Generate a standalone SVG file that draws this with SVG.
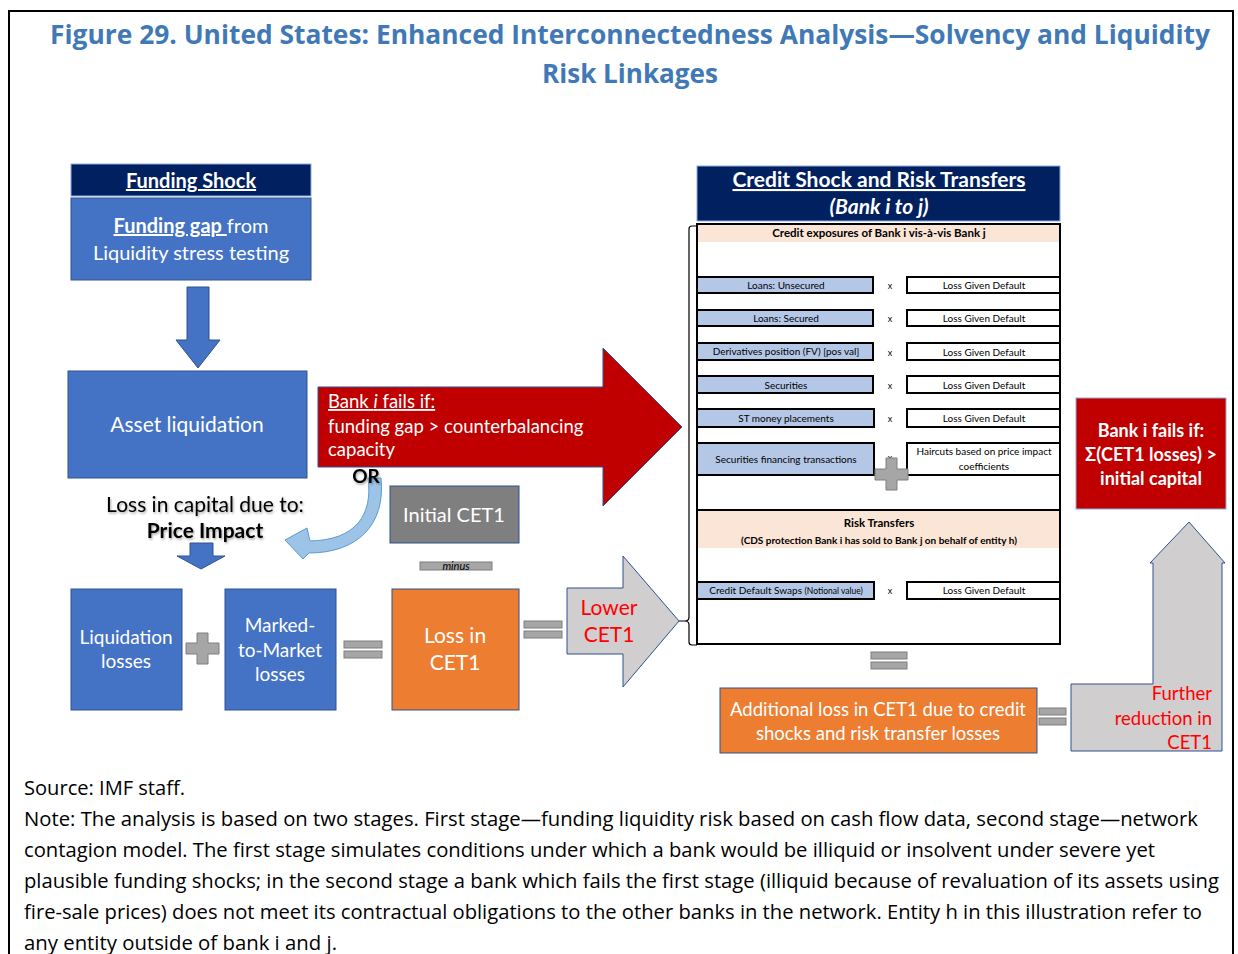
<svg xmlns="http://www.w3.org/2000/svg" width="1238" height="954" viewBox="0 0 1238 954">
<defs>
<filter id="shadow" x="-10%" y="-30%" width="120%" height="160%">
<feDropShadow dx="1" dy="1.5" stdDeviation="1" flood-color="#000" flood-opacity="0.35"/>
</filter>
</defs>
<style>
text{font-family:Lato,"Open Sans","Liberation Sans",sans-serif}
.w{fill:#fff}
.c{text-anchor:middle}
.b{font-weight:bold}
.u{text-decoration:underline}
.blue{fill:#4472C4;stroke:#2F528F;stroke-width:1}
.navy{fill:#002060;stroke:#8FAADC;stroke-width:1}
.orange{fill:#ED7D31;stroke:#2F528F;stroke-width:1}
.gray{fill:#A6A6A6;stroke:#7F7F7F;stroke-width:1}
.lgray{fill:#D0CECE;stroke:#2F528F;stroke-width:1}
.cellL{fill:#B4C7E7;stroke:#000;stroke-width:2}
.cellR{fill:#fff;stroke:#000;stroke-width:2}
.t10{font-size:10px;fill:#000}
.x{font-size:9px;fill:#000;text-anchor:middle}
.note{font-family:"Open Sans","Liberation Sans",sans-serif;font-size:19.5px;fill:#000}
.red{fill:#FF0000}
</style>
<rect x="9" y="11" width="1224" height="960" fill="none" stroke="#000" stroke-width="2"/>
<g id="title">
<text x="630" y="44" class="c b" style="font-family:'Open Sans','Liberation Sans',sans-serif;font-size:27px;fill:#4079B5" textLength="1160" lengthAdjust="spacingAndGlyphs">Figure 29. United States: Enhanced Interconnectedness Analysis—Solvency and Liquidity</text>
<text x="630" y="83" class="c b" style="font-family:'Open Sans','Liberation Sans',sans-serif;font-size:27px;fill:#4079B5" textLength="176" lengthAdjust="spacingAndGlyphs">Risk Linkages</text>
</g>
<g id="funding-shock">
<rect x="71" y="164" width="240" height="32" class="navy"/>
<text x="191" y="188" class="w c b u" font-size="20">Funding Shock</text>
</g>
<g id="funding-gap">
<rect x="71" y="198" width="240" height="82" class="blue"/>
<text x="191" y="233" class="w c" font-size="20"><tspan class="b u">Funding gap </tspan>from</text>
<text x="191" y="260" class="w c" font-size="20">Liquidity stress testing</text>
</g>
<g id="asset-liquidation">
<rect x="68" y="371" width="239" height="107" class="blue"/>
<text x="187" y="432" class="w c" font-size="21">Asset liquidation</text>
</g>
<g id="connectors">
<polygon points="187,287 209,287 209,340 220,340 198,368 176,340 187,340" class="blue"/>
<path d="M697,226 H692 Q689,226 689,229 V617 Q689,621 685,621 H679 M685,621 Q689,621 689,625 V642 Q689,645 692,645 H697" fill="none" stroke="#000" stroke-width="1.2"/>
</g>
<g id="bank-fails-arrow">
<polygon points="318,387 603,387 603,348 682,427 603,506 603,467 318,467" fill="#C00000" stroke="#2F528F" stroke-width="1"/>
<text x="328" y="408" class="w" font-size="18.5"><tspan class="u">Bank <tspan font-style="italic">i</tspan> fails if:</tspan></text>
<text x="328" y="433" class="w" font-size="18.5">funding gap &gt; counterbalancing</text>
<text x="328" y="456" class="w" font-size="18.5">capacity</text>
</g>
<g id="or-curve">
<path d="M368,478 C373,515 356,540 310,541 L307,528 L285,540 L303,559 L309,553 C357,553 386,525 381,478 Z" fill="#9DC3E6" stroke="#5B9BD5" stroke-width="1"/>
<text x="366" y="483" class="c b" font-size="19" filter="url(#shadow)">OR</text>
</g>
<g id="loss-capital">
<text x="205" y="512" class="c" font-size="21" filter="url(#shadow)">Loss in capital due to:</text>
<text x="205" y="538" class="c b" font-size="21" filter="url(#shadow)">Price Impact</text>
<polygon points="190,543 213,543 213,556 225,556 201,569 177,556 190,556" class="blue"/>
</g>
<g id="initial-cet1">
<rect x="390" y="486" width="129" height="57" fill="#7F7F7F" stroke="#2F528F" stroke-width="1"/>
<text x="454" y="522" class="w c" font-size="20">Initial CET1</text>
</g>
<g id="minus">
<rect x="420" y="562" width="72" height="8" class="gray"/>
<text x="456" y="570" class="c" font-size="11" font-style="italic">minus</text>
</g>
<g id="liquidation-losses">
<rect x="71" y="589" width="111" height="121" class="blue"/>
<text x="126" y="644" class="w c" font-size="19">Liquidation</text>
<text x="126" y="668" class="w c" font-size="19">losses</text>
</g>
<g id="plus1">
<path d="M197,633 H208 V643 H219 V654 H208 V664 H197 V654 H186 V643 H197 Z" class="gray"/>
</g>
<g id="mtm-losses">
<rect x="225" y="589" width="111" height="121" class="blue"/>
<text x="280" y="632" class="w c" font-size="19">Marked-</text>
<text x="280" y="657" class="w c" font-size="19">to-Market</text>
<text x="280" y="681" class="w c" font-size="19">losses</text>
</g>
<g id="eq1">
<rect x="344" y="641" width="38" height="7" class="gray"/>
<rect x="344" y="651" width="38" height="7" class="gray"/>
</g>
<g id="loss-cet1">
<rect x="392" y="589" width="127" height="121" class="orange"/>
<text x="455" y="643" class="w c" font-size="21">Loss in</text>
<text x="455" y="670" class="w c" font-size="21">CET1</text>
</g>
<g id="eq2">
<rect x="524" y="621" width="38" height="7" class="gray"/>
<rect x="524" y="631" width="38" height="7" class="gray"/>
</g>
<g id="lower-cet1">
<polygon points="567,588 623,588 623,556 679,621 623,687 623,654 567,654" class="lgray"/>
<text x="609" y="615" class="red c" font-size="21">Lower</text>
<text x="609" y="642" class="red c" font-size="21">CET1</text>
</g>
<g id="credit-header">
<rect x="697" y="166" width="363" height="55" class="navy"/>
<text x="879" y="187" class="w c b u" font-size="21">Credit Shock and Risk Transfers</text>
<text x="879" y="214" class="w c b" font-size="21" font-style="italic">(Bank i to j)</text>
</g>
<g id="credit-table">
<rect x="697" y="224" width="363" height="420" fill="#fff" stroke="#000" stroke-width="2"/>
<rect x="698" y="225" width="361" height="17" fill="#FBE5D6"/>
<text x="879" y="237" class="c b" font-size="11.5">Credit exposures of Bank i vis-à-vis Bank j</text>
<rect x="697" y="277" width="176" height="16" class="cellL"/>
<text x="786" y="289" class="t10 c">Loans: Unsecured</text>
<text x="890" y="289" class="x">x</text>
<rect x="907" y="277" width="153" height="16" class="cellR"/>
<text x="984" y="289" class="t10 c">Loss Given Default</text>
<rect x="697" y="310" width="176" height="16" class="cellL"/>
<text x="786" y="322" class="t10 c">Loans: Secured</text>
<text x="890" y="322" class="x">x</text>
<rect x="907" y="310" width="153" height="16" class="cellR"/>
<text x="984" y="322" class="t10 c">Loss Given Default</text>
<rect x="697" y="343" width="176" height="17" class="cellL"/>
<text x="786" y="355" class="t10 c">Derivatives position (FV) [pos val]</text>
<text x="890" y="356" class="x">x</text>
<rect x="907" y="343" width="153" height="17" class="cellR"/>
<text x="984" y="356" class="t10 c">Loss Given Default</text>
<rect x="697" y="376" width="176" height="17" class="cellL"/>
<text x="786" y="389" class="t10 c">Securities</text>
<text x="890" y="389" class="x">x</text>
<rect x="907" y="376" width="153" height="17" class="cellR"/>
<text x="984" y="389" class="t10 c">Loss Given Default</text>
<rect x="697" y="409" width="177" height="18" class="cellL"/>
<text x="786" y="422" class="t10 c">ST money placements</text>
<text x="890" y="422" class="x">x</text>
<rect x="907" y="409" width="153" height="18" class="cellR"/>
<text x="984" y="422" class="t10 c">Loss Given Default</text>
<rect x="697" y="443" width="177" height="32" class="cellL"/>
<text x="786" y="463" class="t10 c">Securities financing transactions</text>
<text x="890" y="461" class="x">x</text>
<rect x="907" y="443" width="153" height="32" class="cellR"/>
<text x="984" y="455" class="t10 c">Haircuts based on price impact</text>
<text x="984" y="470" class="t10 c">coefficients</text>
<path d="M886,458 H897 V469 H908 V480 H897 V490 H886 V480 H875 V469 H886 Z" class="gray"/>
<line x1="697" y1="510" x2="1060" y2="510" stroke="#000" stroke-width="2"/>
<rect x="698" y="511" width="361" height="37" fill="#FBE5D6"/>
<text x="879" y="527" class="c b" font-size="11.5">Risk Transfers</text>
<text x="879" y="544" class="c b" font-size="10">(CDS protection Bank i has sold to Bank j on behalf of entity h)</text>
<rect x="697" y="582" width="177" height="17" class="cellL"/>
<text x="786" y="594" class="t10 c">Credit Default Swaps <tspan font-size="8.5">(Notional value)</tspan></text>
<text x="890" y="594" class="x" font-size="7">x</text>
<rect x="907" y="582" width="153" height="17" class="cellR"/>
<text x="984" y="594" class="t10 c">Loss Given Default</text>
</g>
<g id="eq3">
<rect x="871" y="652" width="36" height="7" class="gray"/>
<rect x="871" y="662" width="36" height="7" class="gray"/>
</g>
<g id="additional-loss">
<rect x="720" y="688" width="317" height="65" class="orange"/>
<text x="878" y="716" class="w c" font-size="18.5">Additional loss in CET1 due to credit</text>
<text x="878" y="740" class="w c" font-size="18.5">shocks and risk transfer losses</text>
</g>
<g id="eq4">
<rect x="1039" y="708" width="27" height="7" class="gray"/>
<rect x="1039" y="718" width="27" height="7" class="gray"/>
</g>
<g id="further-reduction">
<polygon points="1071,684 1153,684 1153,563 1150,563 1189,522 1225,563 1222,563 1222,751 1071,751" class="lgray"/>
<text x="1212" y="700" class="red" font-size="18.5" text-anchor="end">Further</text>
<text x="1212" y="725" class="red" font-size="18.5" text-anchor="end">reduction in</text>
<text x="1212" y="749" class="red" font-size="18.5" text-anchor="end">CET1</text>
</g>
<g id="bank-fails-capital">
<rect x="1076" y="398" width="150" height="111" fill="#C00000" stroke="#8FAADC" stroke-width="1"/>
<text x="1151" y="437" class="w c b" font-size="18">Bank i fails if:</text>
<text x="1151" y="461" class="w c b" font-size="18">Σ(CET1 losses) &gt;</text>
<text x="1151" y="485" class="w c b" font-size="18">initial capital</text>
</g>
<g id="source-note">
<text x="24" y="795" class="note" textLength="161" lengthAdjust="spacingAndGlyphs">Source: IMF staff.</text>
<text x="24" y="826" class="note" textLength="1174" lengthAdjust="spacingAndGlyphs">Note: The analysis is based on two stages. First stage—funding liquidity risk based on cash flow data, second stage—network</text>
<text x="24" y="857" class="note" textLength="1131" lengthAdjust="spacingAndGlyphs">contagion model. The first stage simulates conditions under which a bank would be illiquid or insolvent under severe yet</text>
<text x="24" y="888" class="note" textLength="1195" lengthAdjust="spacingAndGlyphs">plausible funding shocks; in the second stage a bank which fails the first stage (illiquid because of revaluation of its assets using</text>
<text x="24" y="919" class="note" textLength="1178" lengthAdjust="spacingAndGlyphs">fire-sale prices) does not meet its contractual obligations to the other banks in the network. Entity h in this illustration refer to</text>
<text x="24" y="950" class="note" textLength="313" lengthAdjust="spacingAndGlyphs">any entity outside of bank i and j.</text>
</g>
</svg>
